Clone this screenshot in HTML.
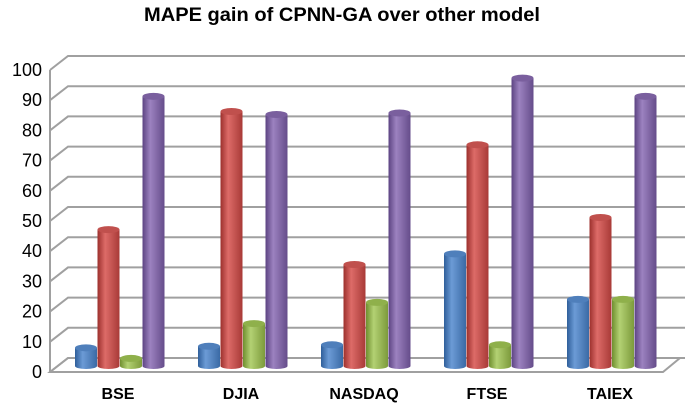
<!DOCTYPE html>
<html><head><meta charset="utf-8">
<style>
html,body{margin:0;padding:0;background:#fff;}
svg{display:block;font-family:"Liberation Sans",Arial,sans-serif;}
</style></head>
<body>
<svg id="chart" width="685" height="408" viewBox="0 0 685 408">
<defs>
<linearGradient id="g0" x1="0" x2="1"><stop offset="0" stop-color="#2f5f9a"/><stop offset="0.35" stop-color="#6c9bd6"/><stop offset="1" stop-color="#3a6aa5"/></linearGradient>
<linearGradient id="g1" x1="0" x2="1"><stop offset="0" stop-color="#9c302d"/><stop offset="0.35" stop-color="#dd6b68"/><stop offset="1" stop-color="#a83a37"/></linearGradient>
<linearGradient id="g2" x1="0" x2="1"><stop offset="0" stop-color="#6f8f2f"/><stop offset="0.35" stop-color="#b3d173"/><stop offset="1" stop-color="#7c9a3b"/></linearGradient>
<linearGradient id="g3" x1="0" x2="1"><stop offset="0" stop-color="#5c4382"/><stop offset="0.35" stop-color="#9c82c0"/><stop offset="1" stop-color="#654c8a"/></linearGradient>
</defs>
<text x="342" y="21" text-anchor="middle" font-size="19" font-weight="bold" textLength="396" lengthAdjust="spacingAndGlyphs" fill="#000">MAPE gain of CPNN-GA over other model</text>
<g id="grid"></g>
<g id="bars"></g>
<g id="labels"></g>
</svg>
<script>
const categories = ["BSE","DJIA","NASDAQ","FTSE","TAIEX"];
const series1 = [6, 6.5, 7, 37, 22];
const series2 = [45, 84, 33.5, 73, 49];
const series3 = [2.5, 14, 21, 7, 22];
const series4 = [89, 83, 83.5, 95, 89];
const yTicks = [0,10,20,30,40,50,60,70,80,90,100];

const NS = "http://www.w3.org/2000/svg";
const gGrid = document.getElementById("grid");
const gBars = document.getElementById("bars");
const gLab = document.getElementById("labels");
function mk(tag, attrs, parent){const e=document.createElementNS(NS,tag);for(const k in attrs)e.setAttribute(k,attrs[k]);parent.appendChild(e);return e;}

const frontY = v => 372 - v*3.02;
const backY = v => 358 - v*3.02;
const barY = v => 366 - v*3.03;
const FX = 50, BX = 68, RX = 685;
const groupX = i => 75 + i*123;

let floor = mk("polygon",{points:`${FX},${frontY(0)} 663,${frontY(0)} 680,${backY(0)} ${BX},${backY(0)}`,fill:"#fff",stroke:"#a0a0a0","stroke-width":2},gGrid);


let wall = mk("line",{x1:FX,y1:frontY(0),x2:FX,y2:frontY(100),stroke:"#a0a0a0","stroke-width":2},gGrid);


yTicks.forEach(t=>{
  const p = mk("polyline",{points:`${FX},${frontY(t)} ${BX},${backY(t)} ${RX},${backY(t)}`,fill:"none",stroke:"#a0a0a0","stroke-width":2},gGrid);
  
  
  const tx = mk("text",{x:42,y:frontY(t)+6,"text-anchor":"end","font-size":18,fill:"#000"},gLab);
  tx.textContent = t;
  
  
});

const allSeries=[series1,series2,series3,series4];
const W=22;
categories.forEach((c,i)=>{
  allSeries.forEach((s,k)=>{
    const x = groupX(i)+k*22.5;
    const yt = barY(s[i]), yb = barY(0);
    const g = mk("g",{},gBars);
    
    
    mk("path",{d:`M${x},${yt} L${x},${yb} A${W/2},3 0 0 0 ${x+W},${yb} L${x+W},${yt} Z`,fill:`url(#g${k})`},g);
    const top=["#4f7fbb","#c0504d","#8fb04b","#7a5f9e"][k];
    mk("ellipse",{cx:x+W/2,cy:yt,rx:W/2,ry:3.5,fill:top},g);
  });
  const t = mk("text",{x:groupX(i)+43,y:399,"text-anchor":"middle","font-size":16,"font-weight":"bold",fill:"#000"},gLab);
  t.textContent=c;
  
  
});
</script>
</body></html>
